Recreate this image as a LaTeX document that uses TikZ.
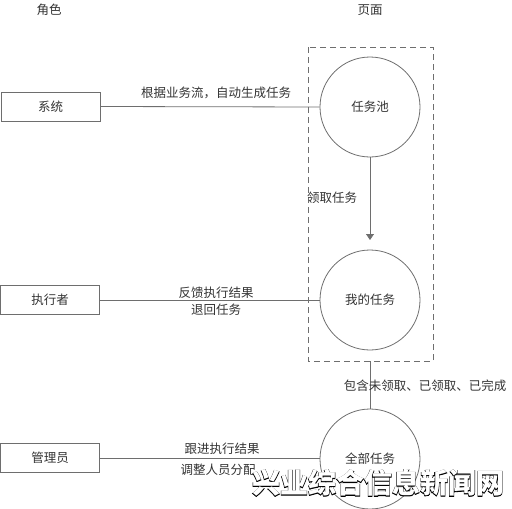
\documentclass[tikz,border=0pt]{standalone}
\usepackage{fontspec}
\setmainfont{Noto Sans CJK SC}
\newfontfamily\cjk{Noto Sans CJK SC}
\newfontfamily\wmo[FakeBold=3]{Noto Sans CJK SC Black}
\newfontfamily\wmf{Noto Sans CJK SC Black}
\usetikzlibrary{arrows.meta}
\definecolor{ln}{HTML}{6E6E6E}
\definecolor{tx}{HTML}{333333}
\tikzset{
  role/.style={draw=ln, line width=0.8pt, minimum width=99pt, minimum height=29pt, inner sep=0pt, text=tx, font=\cjk\fontsize{12.5}{14}\selectfont},
  page/.style={circle, draw=ln, line width=0.8pt, minimum size=100pt, inner sep=0pt, text=tx, font=\cjk\fontsize{12.5}{14}\selectfont},
  lbl/.style={text=tx, font=\cjk\fontsize{12.5}{14}\selectfont, inner sep=0pt},
  conn/.style={draw=ln, line width=0.8pt},
  wm/.style={inner sep=0pt}
}
\begin{document}
\begin{tikzpicture}[x=1pt,y=-1pt]
\useasboundingbox (0,0) rectangle (512,509);
\node[lbl] (hrole) at (49,10) {角色};
\node[lbl] (hpage) at (370,10) {页面};
\draw[ln, dashed, dash pattern=on 6pt off 4pt, line width=0.8pt] (308,47) rectangle (433,361);
\coordinate (boxbot) at (370,361);
\node[page] (pool) at (370,107) {任务池};
\node[page] (mine) at (370,300) {我的任务};
\node[page] (all) at (370,459) {全部任务};
\node[role] (sys) at (50.5,106.5) {系统};
\node[role] (exe) at (50,300) {执行者};
\node[role] (adm) at (50,458) {管理员};
\draw[conn] (sys.east) -- (pool.west);
\draw[conn] (exe.east) -- (exe.east -| mine.west);
\draw[conn] (adm.east) -- (adm.east -| all.west);
\coordinate (tip) at (370,240);
\draw[conn, -{Triangle[width=8pt,length=6pt]}] (pool.south) -- (tip);
\draw[conn] (boxbot) -- (all.north);
\node[lbl] (l1) at (216,93) {根据业务流，自动生成任务};
\node[lbl] (l2) at (332,198) {领取任务};
\node[lbl] (l3) at (216,293) {反馈执行结果};
\node[lbl] (l4) at (216,310) {退回任务};
\node[lbl] (l5) at (425,386) {包含未领取、已领取、已完成};
\node[lbl] (l6) at (222,449) {跟进执行结果};
\node[lbl] (l7) at (218,470) {调整人员分配};
\node[wm] (wmk) at (378,483) {\rlap{\wmo\fontsize{28}{30}\selectfont\textcolor{black}{兴业综合信息新闻网}}\wmf\fontsize{28}{30}\selectfont\textcolor{white}{兴业综合信息新闻网}};
\end{tikzpicture}
\end{document}
